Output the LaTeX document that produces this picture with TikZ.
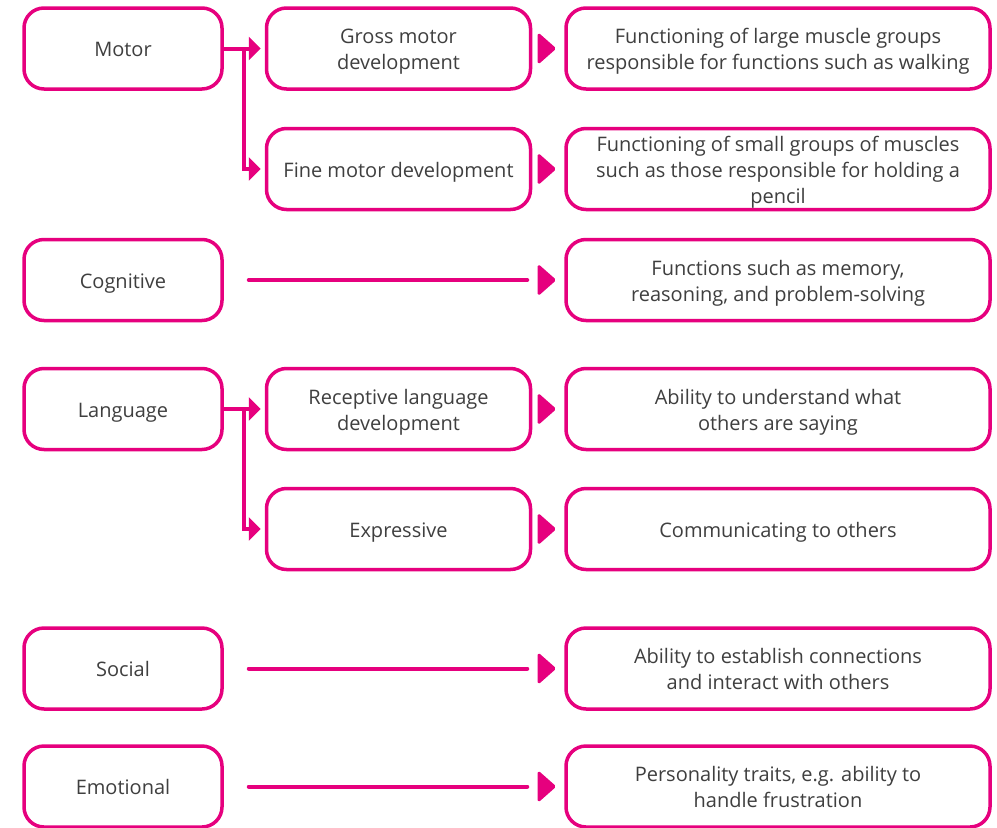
\documentclass[tikz,border=0pt]{standalone}
\usepackage{fontspec}
\setmainfont{Open Sans}
\usetikzlibrary{arrows.meta,calc}
\definecolor{brand}{HTML}{E6007E}
\definecolor{ink}{HTML}{3F3F3F}
% centred lines, set a little below the optical centre of the box
\newcommand\boxtext[1]{\raisebox{-3pt}[\height][\depth]{\begin{tabular}{@{}c@{}}#1\end{tabular}}}
\tikzset{
  box/.style={draw=brand, line width=3.5pt, rounded corners=20pt, fill=white,
    text=ink, font=\fontsize{20}{26}\selectfont, inner sep=0pt},
  catbox/.style={box, minimum width=198pt, minimum height=81pt},
  subbox/.style={box, minimum width=264pt, minimum height=81pt},
  descbox/.style={box, minimum width=424pt, minimum height=81pt},
  conn/.style={draw=brand, line width=4pt},
  branch/.style={conn, -{Triangle[length=12pt,width=23pt]}, shorten >=4pt},
  tipshape/.style={fill=brand, draw=brand, line width=1.5pt, line join=round, rounded corners=1.5pt}
}
% filled pointer just left of a description box: node name, half height, length
\newcommand\tipmark[3]{%
  \filldraw[tipshape] ($(#1.west)+(-26,-#2)$) -- ($(#1.west)+(-26+#3,0)$) -- ($(#1.west)+(-26,#2)$) -- cycle;}
\begin{document}
\begin{tikzpicture}[x=1pt,y=-1pt]
\useasboundingbox (0,0) rectangle (997,828);

% categories
\node[catbox] (motor) at (123,48.5) {\boxtext{Motor}};
\node[catbox] (cog)   at (123,280) {\boxtext{Cognitive}};
\node[catbox] (lang)  at (123,409) {\boxtext{Language}};
\node[catbox] (soc)   at (123,668.5) {\boxtext{Social}};
\node[catbox] (emo)   at (123,786.5) {\boxtext{Emotional}};

% sub-areas
\node[subbox] (gross) at (398.5,48.5) {\boxtext{Gross motor\\development}};
\node[subbox] (fine)  at (398.5,169) {\boxtext{Fine motor development}};
\node[subbox] (rec)   at (398.5,409) {\boxtext{Receptive language\\development}};
\node[subbox] (expr)  at (398.5,529) {\boxtext{Expressive}};

% descriptions
\node[descbox] (grossd) at (778,48.5) {\boxtext{Functioning of large muscle groups\\responsible for functions such as walking}};
\node[descbox] (fined)  at (778,169) {\boxtext{Functioning of small groups of muscles\\such as those responsible for holding a\\pencil}};
\node[descbox] (cogd)   at (778,280) {\boxtext{Functions such as memory,\\reasoning, and problem-solving}};
\node[descbox] (recd)   at (778,409) {\boxtext{Ability to understand what\\others are saying}};
\node[descbox] (exprd)  at (778,529) {\boxtext{Communicating to others}};
\node[descbox] (socd)   at (778,668.5) {\boxtext{Ability to establish connections\\and interact with others}};
\node[descbox] (emod)   at (778,786.5) {\boxtext{Personality traits, e.g. ability to\\handle frustration}};

% branching connectors
\draw[branch] (motor.east) -- (gross.west);
\draw[branch] (motor.east) -- ++(20,0) |- (fine.west);
\draw[branch] (lang.east) -- (rec.west);
\draw[branch] (lang.east) -- ++(20,0) |- (expr.west);

% straight connectors
\foreach \a/\b in {cog/cogd, soc/socd, emo/emod}
  \draw[conn, line cap=round] ($(\a.east)+(25,0)$) -- ($(\b.west)+(-37,0)$);

% pointers before the descriptions
\foreach \d in {grossd, fined, cogd, recd, exprd, socd, emod}
  {\tipmark{\d}{15}{17}}
\end{tikzpicture}
\end{document}
